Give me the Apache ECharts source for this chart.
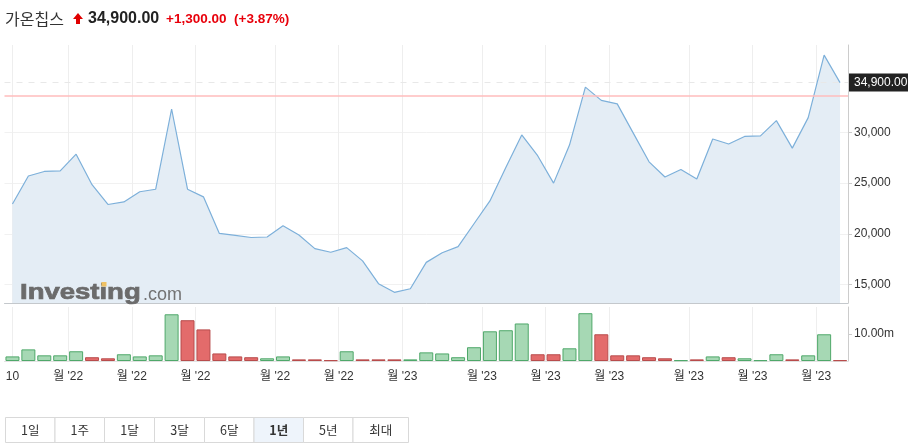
<!DOCTYPE html>
<html>
<head>
<meta charset="utf-8">
<script src="https://cdn.jsdelivr.net/npm/echarts@6/dist/echarts.min.js"></script>
<style>
html, body { margin: 0; padding: 0; background: #fff; }
#chart { width: 908px; height: 446px; }
</style>
</head>
<body>
<div id="chart"></div>
<script>
// 주간 종가 (원)
var prices = [22950, 25700, 26150, 26200, 27850, 24850, 22900, 23150, 24150, 24400,
  32300, 24400, 23650, 20050, 19850, 19650, 19700, 20800, 19900, 18550,
  18200, 18650, 17350, 15100, 14250, 14600, 17200, 18150, 18750, 21000,
  23250, 26550, 29750, 27700, 25000, 28750, 34450, 33150, 32800, 29950,
  27100, 25600, 26350, 25400, 29350, 28850, 29600, 29650, 31150, 28450,
  31450, 37600, 34900];
// 거래량 (백만)
var volumes = [1.7, 4.3, 2.1, 2.1, 3.6, 1.4, 1.0, 2.5, 1.7, 2.1,
  17.3, 15.1, 11.7, 2.8, 1.7, 1.4, 1.0, 1.7, 0.6, 0.6,
  0.3, 3.6, 0.6, 0.6, 0.6, 0.6, 3.2, 2.8, 1.4, 5.1,
  11.0, 11.4, 13.9, 2.5, 2.5, 4.7, 17.7, 9.9, 2.1, 2.1,
  1.4, 1.0, 0.3, 0.6, 1.7, 1.4, 1.0, 0.3, 2.5, 0.6,
  2.1, 9.9, 0.3];
var tickPositions = [0, 3.5, 7.5, 11.5, 16.5, 20.5, 24.5, 29.5, 33.5, 37.5, 42.5, 46.5, 50.5];
var tickLabels = ["10", "월 '22", "월 '22", "월 '22", "월 '22", "월 '22", "월 '23",
  "월 '23", "월 '23", "월 '23", "월 '23", "월 '23", "월 '23"];
var priceTicks = [15000, 20000, 25000, 30000];
var volumeTicks = [10];
var stockName = "가온칩스";
var lastPrice = 34900;
var prevClose = 33600;
var changePct = 3.87;
var rangeLabels = ["1일", "1주", "1달", "3달", "6달", "1년", "5년", "최대"];
var activeRange = "1년";

var LATIN = "'Liberation Sans', Arial, 'Noto Sans CJK KR', sans-serif";
var KOREAN = "'Noto Sans CJK KR', 'Liberation Sans', sans-serif";

function fmt(v, d) {
  return v.toLocaleString("en-US", { minimumFractionDigits: d, maximumFractionDigits: d });
}

var myChart = echarts.init(document.getElementById("chart"));

var lineData = prices.map(function (v, i) { return [i, v]; });
var barData = volumes.map(function (v, i) {
  var up = i === 0 || prices[i] >= prices[i - 1];
  return {
    value: [i, v],
    itemStyle: up
      ? { color: "#a6d8b4", borderColor: "#4fa86a", borderWidth: 1 }
      : { color: "#e36b6b", borderColor: "#b84c4c", borderWidth: 1 }
  };
});

// 기간 버튼
var btnEdges = [5.5, 55, 104.5, 154.5, 204.5, 254, 303.5, 353, 408.5];
var buttons = [];
rangeLabels.forEach(function (t, i) {
  var active = t === activeRange;
  buttons.push({
    type: "rect",
    shape: { x: btnEdges[i], y: 417.5, width: btnEdges[i + 1] - btnEdges[i], height: 25 },
    style: { fill: active ? "#eef4fb" : "#fff", stroke: "#d9d9d9", lineWidth: 1 }
  });
  buttons.push({
    type: "text",
    style: {
      x: (btnEdges[i] + btnEdges[i + 1]) / 2, y: 430,
      text: t, align: "center", verticalAlign: "middle",
      font: (active ? "bold " : "") + "12.5px " + KOREAN, fill: "#333"
    }
  });
});

var change = lastPrice - prevClose;

myChart.setOption({
  animation: false,
  grid: [
    { left: 4.5, right: 60, top: 45, height: 258 },
    { left: 4.5, right: 60, top: 307, height: 54 }
  ],
  xAxis: [
    {
      gridIndex: 0, type: "value", min: -0.5, max: 52.5,
      axisLine: { show: true, onZero: false, lineStyle: { color: "#c4c8cc" } },
      axisTick: { show: false, customValues: tickPositions },
      axisLabel: { show: false },
      splitLine: { show: true, lineStyle: { color: "#eeeeee" } }
    },
    {
      gridIndex: 1, type: "value", min: -0.5, max: 52.5,
      axisLine: { show: true, onZero: false, lineStyle: { color: "#e2e2e2" } },
      axisTick: { show: false, customValues: tickPositions },
      axisLabel: {
        customValues: tickPositions,
        color: "#333", fontSize: 12, fontFamily: LATIN, margin: 10,
        formatter: function (v) { return tickLabels[tickPositions.indexOf(v)]; }
      },
      splitLine: { show: true, lineStyle: { color: "#eeeeee" } }
    }
  ],
  yAxis: [
    {
      gridIndex: 0, type: "value", position: "right", min: 13200, max: 38600,
      axisLine: { show: true, onZero: false, lineStyle: { color: "#cccccc" } },
      axisTick: { show: true, length: 4, customValues: priceTicks, lineStyle: { color: "#cccccc" } },
      axisLabel: {
        customValues: priceTicks, color: "#333", fontSize: 12, fontFamily: LATIN, margin: 6,
        formatter: function (v) { return fmt(v, 0); }
      },
      splitLine: { show: true, lineStyle: { color: "#f1f1f1" } }
    },
    {
      gridIndex: 1, type: "value", position: "right", min: 0, max: 20,
      axisLine: { show: true, onZero: false, lineStyle: { color: "#cccccc" } },
      axisTick: { show: true, length: 4, customValues: volumeTicks, lineStyle: { color: "#cccccc" } },
      axisLabel: {
        customValues: volumeTicks, color: "#333", fontSize: 12, fontFamily: LATIN, margin: 6,
        formatter: function (v) { return fmt(v, 2) + "m"; }
      },
      splitLine: { show: false }
    }
  ],
  series: [
    {
      type: "line", xAxisIndex: 0, yAxisIndex: 0,
      data: lineData, showSymbol: false, symbol: "none",
      lineStyle: { color: "#7db0da", width: 1.2 },
      areaStyle: { color: "#e4edf5", opacity: 1, origin: "start" },
      markLine: {
        silent: true, symbol: ["none", "none"],
        data: [
          { yAxis: prevClose, lineStyle: { color: "#ffbdbd", width: 1.5, type: "solid" }, label: { show: false } },
          {
            yAxis: lastPrice, lineStyle: { color: "#e8e8e8", width: 1, type: [6, 6] },
            label: {
              show: true, position: "end", distance: 1,
              formatter: fmt(lastPrice, 2),
              backgroundColor: "#222", color: "#fff", fontSize: 12, fontFamily: LATIN,
              padding: [3, 5, 3, 5]
            }
          }
        ]
      }
    },
    {
      type: "bar", xAxisIndex: 1, yAxisIndex: 1,
      data: barData, barWidth: 14
    }
  ],
  graphic: [
    { type: "text", style: { x: 5, y: 19, text: stockName, verticalAlign: "middle", font: "16px " + KOREAN, fill: "#333" } },
    {
      type: "polygon",
      shape: { points: [[78, 13], [83, 19], [80, 19], [80, 24], [76, 24], [76, 19], [73, 19]] },
      style: { fill: "#e00000" }
    },
    { type: "text", style: { x: 88, y: 19, text: fmt(lastPrice, 2), verticalAlign: "middle", font: "bold 16px " + LATIN, fill: "#222" } },
    { type: "text", style: { x: 166, y: 19, text: "+" + fmt(change, 2), verticalAlign: "middle", font: "bold 13.5px " + LATIN, fill: "#e8000b" } },
    { type: "text", style: { x: 234, y: 19, text: "(+" + changePct.toFixed(2) + "%)", verticalAlign: "middle", font: "bold 13.5px " + LATIN, fill: "#e8000b" } },
    // 워터마크
    {
      type: "text", z: 10, x: 20, y: 293, scaleX: 1.25,
      style: { x: 0, y: 0, text: "Investing", verticalAlign: "middle", font: "bold 22px " + LATIN, fill: "#6b6b6b", stroke: "#6b6b6b", lineWidth: 0.7 }
    },
    { type: "rect", z: 11, shape: { x: 101.5, y: 282, width: 5, height: 4.5 }, style: { fill: "#efc163" } },
    { type: "text", z: 10, style: { x: 143, y: 295, text: ".com", verticalAlign: "middle", font: "18px " + LATIN, fill: "#737373" } }
  ].concat(buttons)
});

window.addEventListener("resize", function () {
  myChart.resize();
});
</script>
</body>
</html>
